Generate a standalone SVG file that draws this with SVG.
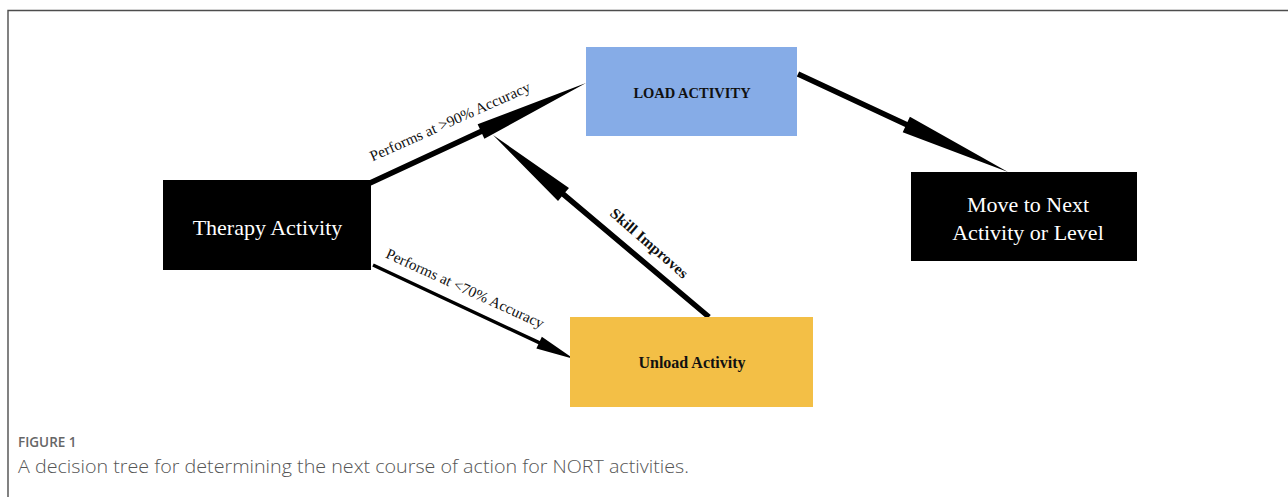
<svg xmlns="http://www.w3.org/2000/svg" width="1288" height="497" viewBox="0 0 1288 497">
  <style>
    .frame { stroke: #4d4d4d; stroke-width: 1.4; fill: none; }
    .box-dark { fill: #000000; }
    .box-load { fill: #86ACE7; }
    .box-unload { fill: #F3BF46; }
    .t-dark { font-family: "Liberation Serif", "DejaVu Serif", serif; font-size: 22px; fill: #ffffff; text-anchor: middle; }
    .t-bold { font-family: "Liberation Serif", "DejaVu Serif", serif; font-weight: bold; fill: #111111; text-anchor: middle; }
    .edge { fill: #000000; }
    .edge-label { font-family: "Liberation Serif", "DejaVu Serif", serif; font-size: 15px; fill: #111111; text-anchor: middle; }
    .cap-title { font-family: "Open Sans", "Liberation Sans", sans-serif; font-size: 13.5px; font-weight: 600; fill: #666666; }
    .cap-text { font-family: "Open Sans", "Liberation Sans", sans-serif; font-size: 18px; font-weight: 300; fill: #555555; }
  </style>

  <rect width="1288" height="497" fill="#ffffff"/>
  <!-- figure frame: top and left rules only -->
  <path class="frame" d="M8 497 V10.5 H1288"/>

  <!-- connectors: tapered shafts with long pointed heads -->
  <g id="connectors">
    <polygon class="edge" points="368.84,180.50 479.84,129.10 477.64,124.34 586,83 484.36,138.86 482.16,134.10 371.16,185.50"/>
    <polygon class="edge" points="373.74,263.42 539.84,341.12 541.85,336.81 574,359 536.35,348.59 538.36,344.29 372.26,266.59"/>
    <polygon class="edge" points="707.23,319.10 561.73,196.50 558.02,200.90 493,135 568.98,187.90 565.27,192.30 710.77,314.90"/>
    <polygon class="edge" points="799.16,71.51 907.46,122.01 909.90,116.80 1008,172 902.71,132.20 905.14,126.99 796.84,76.49"/>
    <text class="edge-label" transform="translate(452,126) rotate(-24)" textLength="174" lengthAdjust="spacingAndGlyphs">Performs at &gt;90% Accuracy</text>
    <text class="edge-label" transform="translate(463,293) rotate(24.5)" textLength="172" lengthAdjust="spacingAndGlyphs">Performs at &lt;70% Accuracy</text>
    <text class="edge-label" font-weight="bold" transform="translate(646,247) rotate(41)" textLength="98" lengthAdjust="spacingAndGlyphs">Skill Improves</text>
  </g>

  <g id="node-therapy">
    <rect class="box-dark" x="163" y="180" width="208" height="90"/>
    <text class="t-dark" x="267.5" y="235">Therapy Activity</text>
  </g>

  <g id="node-load">
    <rect class="box-load" x="586" y="47" width="211" height="89"/>
    <text class="t-bold" x="692" y="98" font-size="14.5">LOAD ACTIVITY</text>
  </g>

  <g id="node-unload">
    <rect class="box-unload" x="570" y="317" width="243" height="90"/>
    <text class="t-bold" x="692" y="368" font-size="16">Unload Activity</text>
  </g>

  <g id="node-next">
    <rect class="box-dark" x="911" y="172" width="226" height="89"/>
    <text class="t-dark" x="1028" y="212">Move to Next</text>
    <text class="t-dark" x="1028" y="240">Activity or Level</text>
  </g>

  <g id="caption">
    <text class="cap-title" x="18" y="447">FIGURE 1</text>
    <text class="cap-text" x="18" y="473" textLength="671" lengthAdjust="spacingAndGlyphs">A decision tree for determining the next course of action for NORT activities.</text>
  </g>
</svg>
